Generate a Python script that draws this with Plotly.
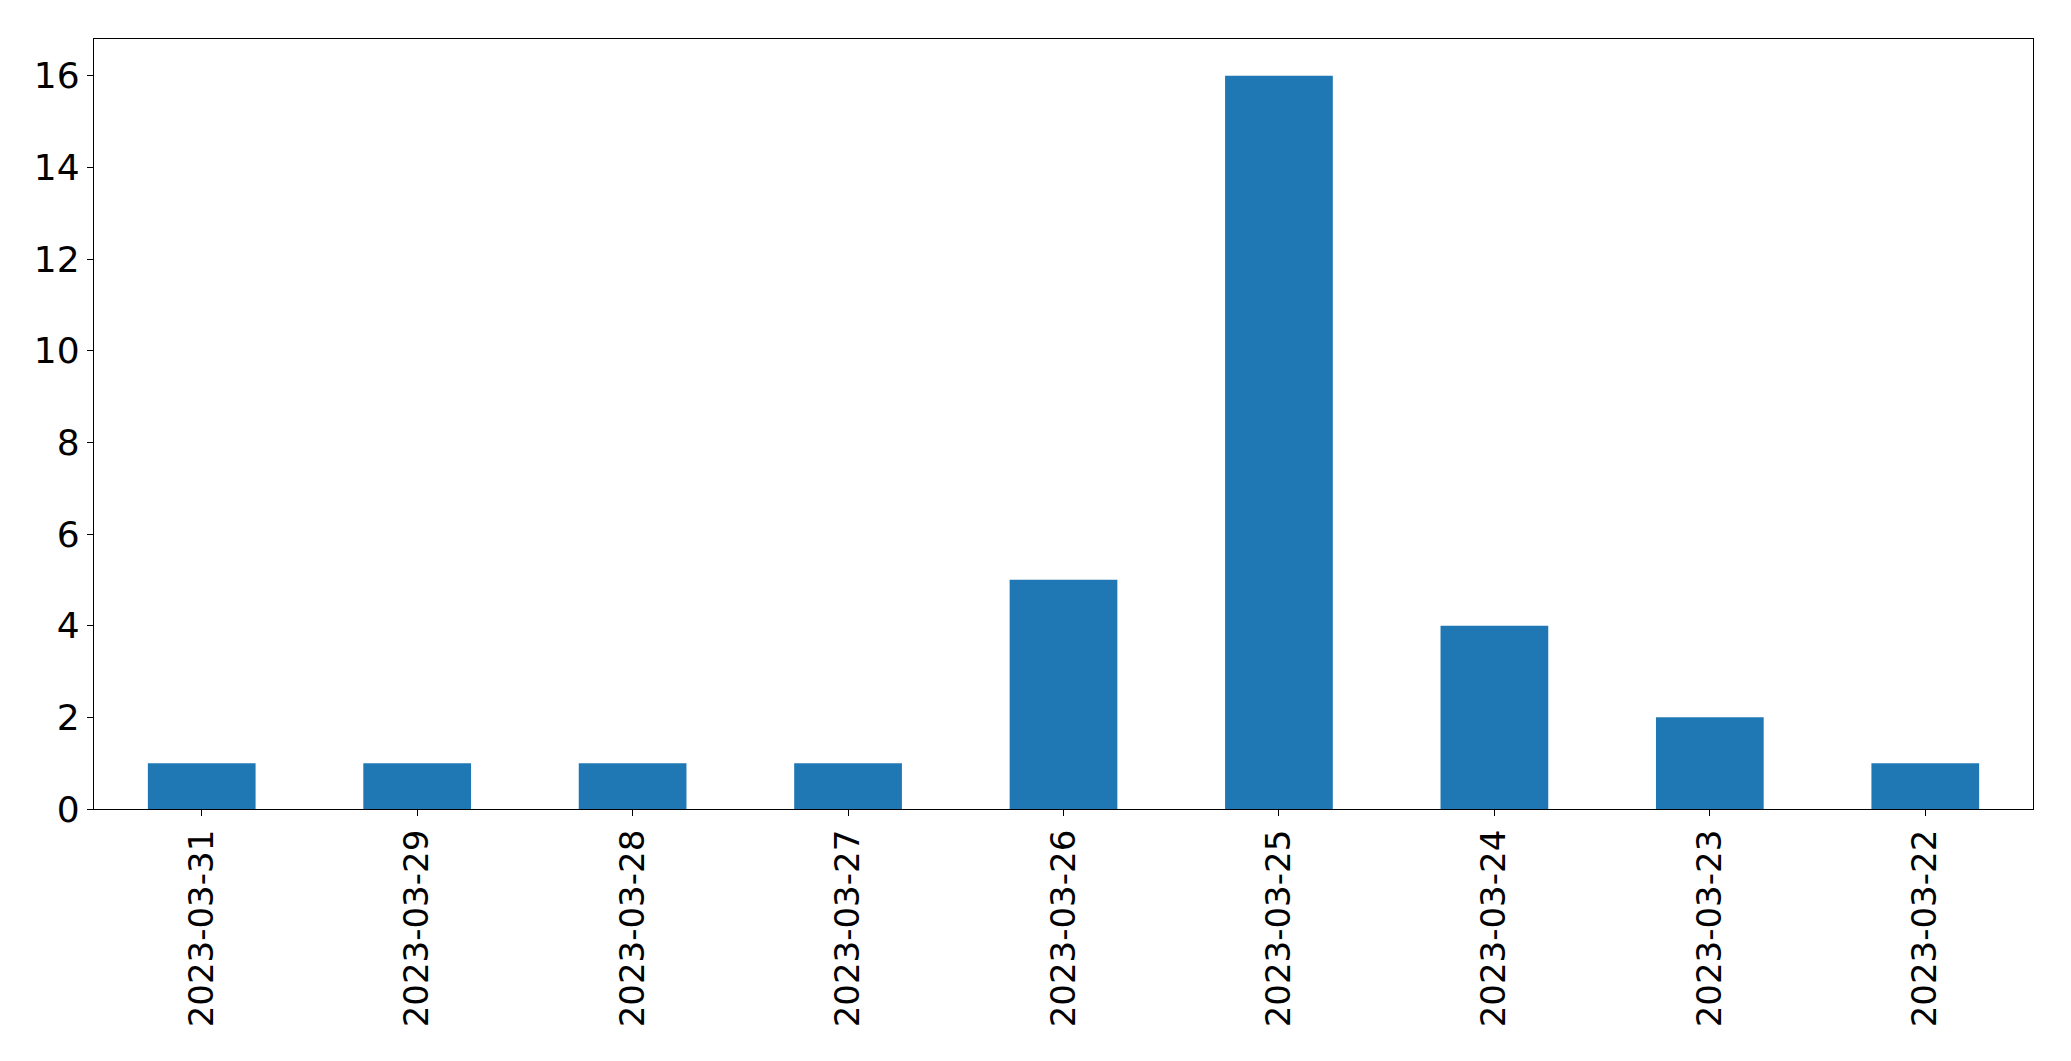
import plotly.graph_objects as go

dates = ["2023-03-31", "2023-03-29", "2023-03-28", "2023-03-27", "2023-03-26",
         "2023-03-25", "2023-03-24", "2023-03-23", "2023-03-22"]
counts = [1, 1, 1, 1, 5, 16, 4, 2, 1]
y_ticks = [0, 2, 4, 6, 8, 10, 12, 14, 16]

fig = go.Figure(go.Bar(x=dates, y=counts, width=0.5, marker=dict(color="#1f77b4", line=dict(width=0))))

axis_common = dict(showline=True, mirror=True, linecolor="black", linewidth=1.3,
                   ticks="outside", ticklen=6, tickwidth=1.3, tickcolor="black",
                   showgrid=False, zeroline=False, automargin=False)

fig.update_layout(
    width=2071, height=1061,
    margin=dict(l=94, r=38, t=39, b=252, pad=0),
    plot_bgcolor="white", paper_bgcolor="white",
    showlegend=False,
    xaxis=dict(type="category", range=[-0.5, 8.5], tickangle=-90,
               tickfont=dict(family="DejaVu Sans", size=34, color="black"), **axis_common),
    yaxis=dict(range=[0, 16.8], tickvals=y_ticks,
               tickfont=dict(family="DejaVu Sans", size=36, color="black"), **axis_common),
)

fig.write_html("out.html", config={"displayModeBar": False},
               post_script="document.body.style.margin='0';document.body.style.overflow='hidden';")
